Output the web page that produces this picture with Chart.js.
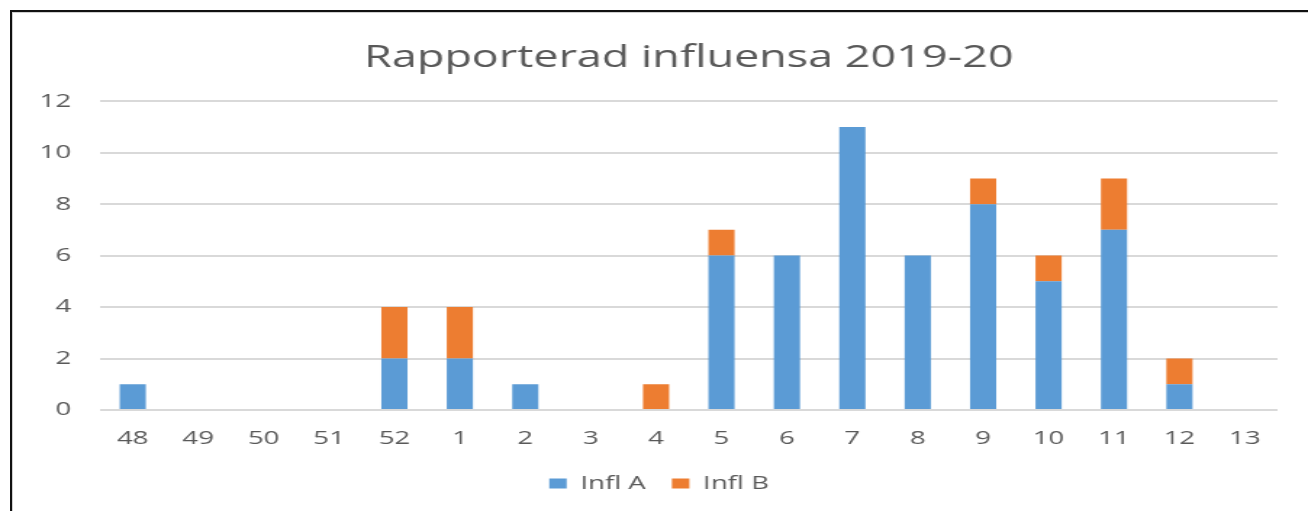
<!DOCTYPE html>
<html>
<head>
<meta charset="utf-8">
<script src="https://cdn.jsdelivr.net/npm/chart.js@4.4.1/dist/chart.umd.min.js"></script>
<style>
  html, body { margin: 0; padding: 0; background: #fff; overflow: hidden; }
  #frame {
    position: absolute; left: 10px; top: 10px; right: -10px; bottom: -10px;
    border-left: 2px solid #111; border-top: 2px solid #111;
    pointer-events: none;
  }
  #frame::after {
    content: ""; position: absolute; left: 0; top: 0; right: 0; bottom: 0;
    border-left: 1px solid #d0d0d0; border-top: 1px solid #d0d0d0;
  }
  #wrap {
    position: absolute; left: 0; top: 0;
    width: 902px; height: 511px;
    transform: scaleX(1.4501); transform-origin: 0 0;
  }
</style>
</head>
<body>
<div id="wrap"><canvas id="chart"></canvas></div>
<div id="frame"></div>
<script>
const weeks = ['48', '49', '50', '51', '52', '1', '2', '3', '4', '5', '6', '7', '8', '9', '10', '11', '12', '13'];
const inflA = [1, 0, 0, 0, 2, 2, 1, 0, 0, 6, 6, 11, 6, 8, 5, 7, 1, 0];
const inflB = [0, 0, 0, 0, 2, 2, 0, 0, 1, 1, 0, 0, 0, 1, 1, 2, 1, 0];
const seriesNames = ['Infl A', 'Infl B'];
const seriesColors = ['#5b9bd5', '#ed7d31'];
const yMax = 12;
const yStep = 2;

const textColor = '#595959';
const font = "'Open Sans', 'Noto Sans', sans-serif";

const chartConfig = {
  type: 'bar',
  data: {
    labels: weeks,
    datasets: [
      { label: seriesNames[0], data: inflA, backgroundColor: seriesColors[0] },
      { label: seriesNames[1], data: inflB, backgroundColor: seriesColors[1] }
    ]
  },
  options: {
    responsive: true,
    maintainAspectRatio: false,
    animation: false,
    datasets: {
      bar: { barPercentage: 0.4, categoryPercentage: 1 }
    },
    layout: { padding: { left: 28, right: 21, top: 40, bottom: 8 } },
    scales: {
      x: {
        stacked: true,
        grid: { display: false, drawTicks: false },
        border: { display: false },
        ticks: { color: textColor, font: { family: font, size: 19 }, padding: 17, maxRotation: 0 },
        afterFit: s => { s.height = 46; }
      },
      y: {
        stacked: true,
        min: 0,
        max: yMax,
        grid: { color: '#d9d9d9', lineWidth: 2, drawTicks: false },
        border: { display: false },
        ticks: { stepSize: yStep, color: textColor, font: { family: font, size: 19 }, padding: 20 },
        afterFit: s => { s.width = 41; }
      }
    },
    plugins: {
      title: {
        display: true,
        text: 'Rapporterad influensa 2019-20',
        color: textColor,
        fullSize: false,
        font: { family: font, size: 31, weight: 'normal' },
        padding: { top: 0, bottom: 24 }
      },
      legend: {
        position: 'bottom',
        labels: {
          color: textColor,
          font: { family: font, size: 19 },
          boxWidth: 12,
          boxHeight: 10,
          padding: 18
        }
      },
      tooltip: { enabled: false }
    }
  }
};

new Chart(document.getElementById('chart'), chartConfig);
</script>
</body>
</html>
